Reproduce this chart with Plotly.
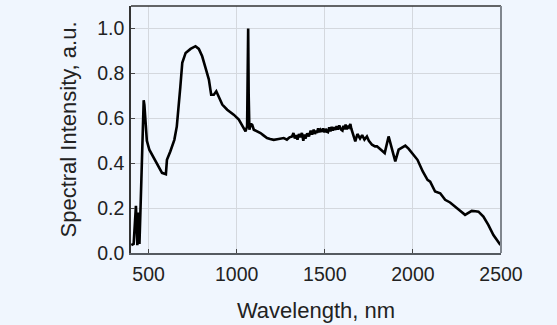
import plotly.graph_objects as go

wavelength = [402, 415, 428, 436, 443, 448, 459, 466, 472, 476, 481, 490, 504, 528, 557, 576, 598, 604, 623, 646,
              660, 670, 680, 691, 710, 738, 766, 785, 804, 823, 842, 855, 870, 884, 899, 918, 946, 983, 1012,
              1040, 1050, 1059, 1063, 1065, 1068, 1072, 1080, 1088, 1097, 1110, 1122, 1135, 1150, 1160, 1172,
              1190, 1210, 1230, 1250, 1267, 1285, 1300, 1314, 1322, 1330, 1338, 1345, 1353, 1361, 1370, 1378, 1384, 1390,
              1400, 1410, 1420, 1428, 1437, 1444, 1450, 1456, 1462, 1468, 1475, 1483, 1490, 1498, 1505, 1512, 1518, 1525,
              1532, 1539, 1545, 1553, 1560, 1567, 1575, 1582, 1588, 1594,
              1600, 1606, 1612, 1618, 1625, 1631, 1637, 1645, 1650, 1655, 1663, 1673, 1685, 1700, 1712, 1725, 1739, 1750, 1768,
              1785, 1796, 1815, 1840, 1862, 1880, 1900, 1919, 1940, 1957, 1975, 1994, 2026, 2056, 2083,
              2098, 2126, 2155, 2183, 2211, 2240, 2268, 2296, 2315, 2334, 2355, 2372, 2400, 2428, 2457, 2480, 2497]
intensity = [0.035, 0.04, 0.21, 0.035, 0.18, 0.04, 0.33, 0.55, 0.68, 0.66, 0.61, 0.50, 0.46, 0.425, 0.385, 0.357, 0.351, 0.415, 0.452, 0.504,
             0.564, 0.638, 0.740, 0.847, 0.891, 0.909, 0.921, 0.909, 0.876, 0.824, 0.772, 0.705, 0.705, 0.72, 0.69, 0.661, 0.638, 0.616, 0.594,
             0.557, 0.542, 0.564, 0.80, 1.0, 0.70, 0.549, 0.575, 0.571, 0.549, 0.545, 0.538, 0.534, 0.525, 0.518, 0.512,
             0.508, 0.504, 0.507, 0.51, 0.512, 0.505, 0.515, 0.519, 0.534, 0.51, 0.525, 0.505, 0.53, 0.515, 0.535, 0.50, 0.528, 0.51,
             0.532, 0.52, 0.545, 0.527, 0.549, 0.53, 0.545, 0.535, 0.555, 0.538, 0.549, 0.54, 0.555, 0.538, 0.553, 0.54, 0.538, 0.56,
             0.542, 0.562, 0.545, 0.56, 0.548, 0.565, 0.55, 0.568, 0.557, 0.548,
             0.545, 0.567, 0.55, 0.572, 0.55, 0.566, 0.56, 0.575, 0.555, 0.54, 0.519, 0.497, 0.53, 0.51, 0.525, 0.505, 0.519, 0.50, 0.482,
             0.475, 0.475, 0.460, 0.445, 0.519, 0.46, 0.408, 0.460, 0.47, 0.478, 0.465, 0.445, 0.415, 0.363, 0.326,
             0.318, 0.274, 0.266, 0.237, 0.225, 0.204, 0.188, 0.170, 0.18, 0.1875, 0.186, 0.184, 0.162, 0.125, 0.080, 0.055, 0.036]

x_ticks = [500, 1000, 1500, 2000, 2500]
y_ticks = [0.0, 0.2, 0.4, 0.6, 0.8, 1.0]
y_tick_text = ["0.0", "0.2", "0.4", "0.6", "0.8", "1.0"]

bg = "#f0f6fe"
fam = "Liberation Sans, Arial, sans-serif"
tick_font = dict(family=fam, size=19.5, color="#222222")
title_font = dict(family=fam, size=22, color="#222222")

fig = go.Figure()
fig.add_trace(go.Scatter(x=wavelength, y=intensity, mode="lines",
                         line=dict(color="#000000", width=2.6), showlegend=False))

fig.update_layout(
    width=557, height=325,
    margin=dict(l=131, r=56, t=6, b=72),
    paper_bgcolor=bg, plot_bgcolor=bg,
    font=tick_font,
    xaxis=dict(range=[400, 2500], tickvals=x_ticks, showgrid=True, gridcolor="#d4d8de", gridwidth=1.3,
               zeroline=False, showline=True, linecolor="#555a60", linewidth=1.5, mirror=False,
               ticks="inside", ticklen=4, tickcolor="#444", tickfont=tick_font, ticklabelstandoff=3,
               title=dict(text="Wavelength, nm", font=title_font, standoff=18)),
    yaxis=dict(range=[0, 1.1], tickvals=y_ticks, ticktext=y_tick_text, showgrid=True, gridcolor="#d4d8de", gridwidth=1.3,
               zeroline=False, showline=True, linecolor="#333333", linewidth=1.5,
               ticks="inside", ticklen=4, tickcolor="#444", tickfont=tick_font, ticklabelstandoff=1,
               title=dict(text="Spectral Intensity, a.u.", font=title_font, standoff=15)),
    shapes=[
        dict(type="line", xref="paper", yref="paper", x0=0, x1=1, y0=1, y1=1, line=dict(color="#333333", width=1.5)),
        dict(type="line", xref="paper", yref="paper", x0=1, x1=1, y0=0, y1=1, line=dict(color="#80868e", width=2)),
    ],
)

fig.write_html("out.html")
